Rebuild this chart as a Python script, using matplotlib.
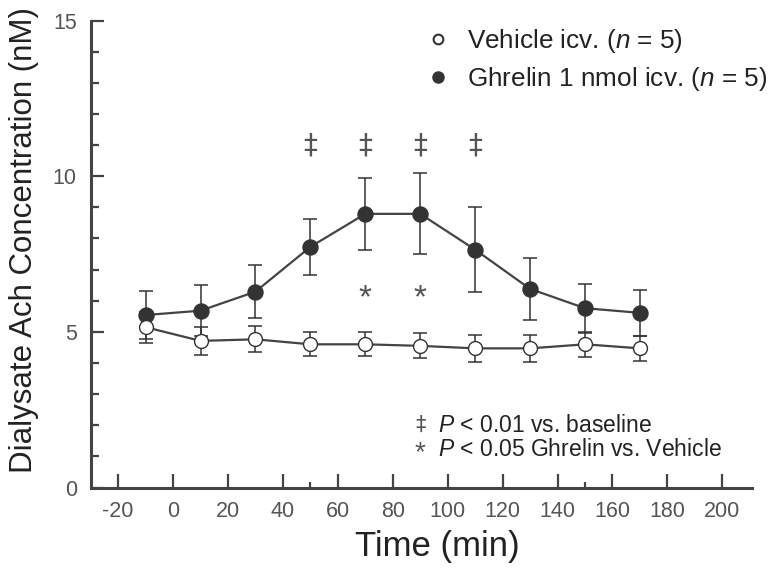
import numpy as np
import matplotlib
matplotlib.use('Agg')
import matplotlib.pyplot as plt
from matplotlib.lines import Line2D

plt.rcParams['font.family'] = ['Liberation Sans', 'DejaVu Sans']
plt.rcParams['mathtext.fontset'] = 'custom'
plt.rcParams['mathtext.rm'] = 'Liberation Sans'
plt.rcParams['mathtext.it'] = 'Liberation Sans:italic'
plt.rcParams['axes.unicode_minus'] = False

# time points (min)
time = [-10, 10, 30, 50, 70, 90, 110, 130, 150, 170]

# ghrelin 1 nmol icv
ghrelin_mean = [5.54, 5.68, 6.29, 7.73, 8.79, 8.79, 7.64, 6.38, 5.76, 5.61]
ghrelin_err = [0.76, 0.81, 0.86, 0.89, 1.15, 1.30, 1.37, 0.99, 0.79, 0.74]

# vehicle icv
vehicle_mean = [5.15, 4.71, 4.76, 4.60, 4.60, 4.55, 4.47, 4.47, 4.60, 4.47]
vehicle_err = [0.50, 0.46, 0.42, 0.38, 0.38, 0.40, 0.43, 0.43, 0.40, 0.40]

# significance marks
dagger_x = [50, 70, 90, 110]
dagger_y = 11.0
star_x = [70, 90]
star_y = 6.36

xticks = list(range(-20, 201, 20))

dark = '#333333'
grey = '#555555'

fig = plt.figure(figsize=(7.73, 5.76), dpi=100)
ax = fig.add_axes([0.1173, 0.1536, 0.8551, 0.8108])

# ghrelin
ax.errorbar(time, ghrelin_mean, yerr=ghrelin_err, fmt='none', ecolor=dark,
            elinewidth=1.1, capsize=5, capthick=1.1, zorder=2)
ax.plot(time, ghrelin_mean, color='#444444', lw=1.6, zorder=3)
ax.plot(time, ghrelin_mean, 'o', ms=10.8, mfc=dark, mec=dark, zorder=4)

# vehicle
ax.errorbar(time, vehicle_mean, yerr=vehicle_err, fmt='none', ecolor=dark,
            elinewidth=1.1, capsize=5, capthick=1.1, zorder=2)
ax.plot(time, vehicle_mean, color='#444444', lw=1.6, zorder=3)
ax.plot(time, vehicle_mean, 'o', ms=10, mfc='white', mec=dark, mew=1.0, zorder=5)

for x in dagger_x:
    ax.text(x, dagger_y, '\u2021', ha='center', va='center', fontsize=20,
            color=grey, family='DejaVu Sans')
for x in star_x:
    ax.text(x, star_y - 0.3, '*', ha='center', va='center', fontsize=24, color=grey)

# note
ax.text(90, 2.0, '\u2021', ha='center', va='center', fontsize=15,
        color=grey, family='DejaVu Sans')
ax.text(90, 1.1, '*', ha='center', va='center', fontsize=20, color=grey)
ax.text(96.5, 2.0, '$\\it{P}$ < 0.01 vs. baseline', ha='left', va='center',
        fontsize=16.5, color='#222222')
ax.text(96.5, 1.22, '$\\it{P}$ < 0.05 Ghrelin vs. Vehicle', ha='left', va='center',
        fontsize=16.5, color='#222222')

ax.set_xlim(-30, 210.7)
ax.set_ylim(0, 15)

for s in ['top', 'right']:
    ax.spines[s].set_visible(False)
for s in ['left', 'bottom']:
    ax.spines[s].set_linewidth(2.2)
    ax.spines[s].set_color('#444444')

ax.set_xticks(xticks)
ax.set_xticks([50, 150], minor=True)
ax.set_yticks([0, 5, 10, 15])
ax.set_yticks(range(0, 16), minor=True)
ax.tick_params(axis='x', which='major', direction='in', length=10, width=1.6,
               color='#444444', labelsize=15.5, labelcolor=grey, pad=10)
ax.tick_params(axis='x', which='minor', direction='in', length=4, width=1.6,
               color='#444444')
ax.tick_params(axis='y', which='major', direction='in', length=9, width=1.6,
               color='#444444', labelsize=15.5, labelcolor=grey, pad=10)
ax.tick_params(axis='y', which='minor', direction='in', length=6, width=1.6,
               color='#444444')

ax.set_xlabel('Time (min)', fontsize=25, color='#222222')
ax.xaxis.set_label_coords(0.524, -0.09)
ax.set_ylabel('Dialysate Ach Concentration (nM)', fontsize=22.5, color='#222222')
ax.yaxis.set_label_coords(-0.078, 0.53)

handles = [
    Line2D([], [], ls='none', marker='o', ms=7, mfc='white', mec=dark, mew=1.5),
    Line2D([], [], ls='none', marker='o', ms=8, mfc=dark, mec=dark),
]
labels = ['Vehicle icv. ($\\it{n}$ = 5)', 'Ghrelin 1 nmol icv. ($\\it{n}$ = 5)']
leg = ax.legend(handles, labels, loc='upper left', bbox_to_anchor=(0.47, 1.037),
                frameon=False, fontsize=18.8, handletextpad=0.6, labelspacing=0.38,
                handlelength=1.0)
for t in leg.get_texts():
    t.set_color('#222222')

fig.savefig('out.png', dpi=100)
